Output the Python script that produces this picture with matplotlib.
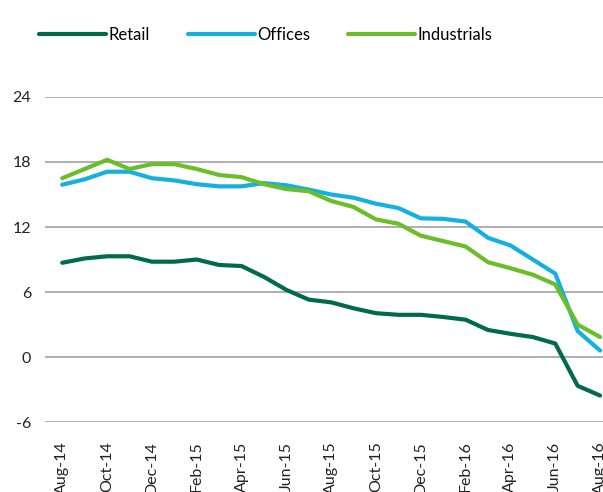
import matplotlib.pyplot as plt

months = ["Aug-14", "Sep-14", "Oct-14", "Nov-14", "Dec-14", "Jan-15", "Feb-15", "Mar-15",
          "Apr-15", "May-15", "Jun-15", "Jul-15", "Aug-15", "Sep-15", "Oct-15", "Nov-15",
          "Dec-15", "Jan-16", "Feb-16", "Mar-16", "Apr-16", "May-16", "Jun-16", "Jul-16",
          "Aug-16"]
retail = [8.7, 9.1, 9.3, 9.3, 8.8, 8.8, 9.0, 8.5, 8.4, 7.4, 6.2, 5.3, 5.05, 4.5, 4.05,
          3.9, 3.9, 3.7, 3.45, 2.5, 2.15, 1.85, 1.25, -2.65, -3.55]
offices = [15.9, 16.4, 17.1, 17.1, 16.5, 16.3, 15.95, 15.75, 15.75, 16.05, 15.85, 15.45,
           15.0, 14.7, 14.15, 13.75, 12.8, 12.75, 12.5, 11.0, 10.3, 9.0, 7.7, 2.4, 0.6]
industrials = [16.5, 17.35, 18.2, 17.35, 17.8, 17.8, 17.35, 16.8, 16.6, 15.95, 15.5,
               15.3, 14.4, 13.85, 12.7, 12.3, 11.2, 10.7, 10.2, 8.75, 8.2, 7.6, 6.7, 3.0, 1.85]

plt.rcParams['font.family'] = ['Lato', 'DejaVu Sans']
plt.rcParams['axes.unicode_minus'] = False

fig = plt.figure(figsize=(6.03, 4.92), dpi=100)
ax = fig.add_axes([0.075, 0.142, 0.925, 0.661])

x = range(len(months))
ax.plot(x, retail, color="#006B4A", lw=3.0, label="Retail", solid_capstyle="round")
ax.plot(x, offices, color="#14B1E0", lw=3.0, label="Offices", solid_capstyle="round")
ax.plot(x, industrials, color="#6BBE2A", lw=3.0, label="Industrials", solid_capstyle="round")

ax.set_ylim(-6, 24)
ax.set_yticks([-6, 0, 6, 12, 18, 24])
ax.set_xlim(-0.76, 24.13)
ax.set_xticks(list(x)[::2])
ax.set_xticklabels(months[::2], rotation=90, va="top")
ax.tick_params(axis="both", length=0, labelsize=11.5, colors="#222222")
ax.tick_params(axis="x", pad=14)
ax.tick_params(axis="y", pad=10)
ax.grid(axis="y", color="#a8a8a8", lw=1.3)
ax.set_axisbelow(True)
for s in ax.spines.values():
    s.set_visible(False)

fig.legend(loc="upper left", bbox_to_anchor=(0.04, 0.975), ncol=3, frameon=False,
           fontsize=12, handlelength=4.0, handletextpad=0.15, columnspacing=2.3)

fig.savefig("out.png", dpi=100)
